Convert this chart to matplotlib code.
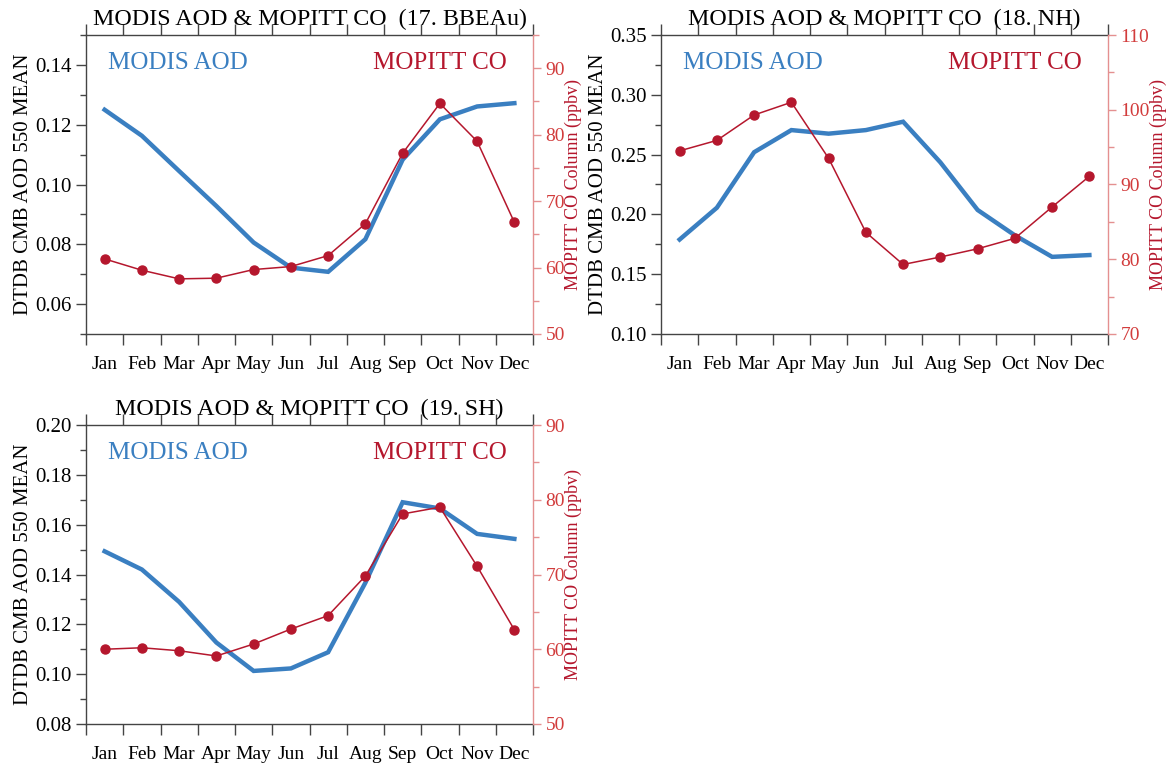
import matplotlib
matplotlib.use("Agg")
import matplotlib.pyplot as plt
from matplotlib.ticker import MultipleLocator, FixedLocator, FormatStrFormatter, NullFormatter

plt.rcParams['font.family'] = ['Liberation Serif', 'DejaVu Serif']

months = ["Jan", "Feb", "Mar", "Apr", "May", "Jun", "Jul", "Aug", "Sep", "Oct", "Nov", "Dec"]

aod_bbeau = [0.125, 0.1163, 0.1045, 0.0928, 0.0806, 0.0722, 0.0708, 0.0817, 0.1083, 0.1218, 0.1261, 0.1272]
co_bbeau = [61.3, 59.6, 58.3, 58.4, 59.7, 60.15, 61.8, 66.6, 77.2, 84.7, 79.0, 66.8]

aod_nh = [0.179, 0.2056, 0.252, 0.2705, 0.2675, 0.2705, 0.2775, 0.2435, 0.2037, 0.1825, 0.1645, 0.1660]
co_nh = [94.5, 95.9, 99.3, 101.0, 93.5, 83.6, 79.3, 80.3, 81.4, 82.8, 87.0, 91.1]

aod_sh = [0.1493, 0.142, 0.129, 0.1127, 0.1013, 0.1023, 0.1088, 0.1367, 0.169, 0.1665, 0.1563, 0.1543]
co_sh = [60.0, 60.2, 59.8, 59.1, 60.7, 62.7, 64.5, 69.8, 78.1, 79.0, 71.1, 62.6]

titles = ["MODIS AOD & MOPITT CO  (17. BBEAu)",
          "MODIS AOD & MOPITT CO  (18. NH)",
          "MODIS AOD & MOPITT CO  (19. SH)"]

BLUE = "#3a7fc1"
RED = "#b5172d"
RAXIS = "#e49090"
RLAB = "#d23c3c"
GRAY = "#444444"

W, H = 1169, 768
fig = plt.figure(figsize=(W / 100, H / 100), dpi=100)

def rect(x0, x1, y0, y1):
    return [x0 / W, 1 - y1 / H, (x1 - x0) / W, (y1 - y0) / H]

panels = [
    dict(title=titles[0], aod=aod_bbeau, co=co_bbeau, ylim=(0.05, 0.15), ymaj=0.02, ymin=0.01,
         fmt="%.2f", rlim=(50, 95), rect=rect(86, 533, 35, 334)),
    dict(title=titles[1], aod=aod_nh, co=co_nh, ylim=(0.10, 0.35), ymaj=0.05, ymin=0.025,
         fmt="%.2f", rlim=(70, 110), rect=rect(661, 1108, 35, 334)),
    dict(title=titles[2], aod=aod_sh, co=co_sh, ylim=(0.08, 0.20), ymaj=0.02, ymin=0.01,
         fmt="%.2f", rlim=(50, 90), rect=rect(86, 533, 425, 724)),
]

xpos = [i + 0.5 for i in range(len(months))]

for p in panels:
    ax = fig.add_axes(p["rect"])
    ax2 = ax.twinx()

    ax.plot(xpos, p["aod"], color=BLUE, lw=3.2, solid_joinstyle="miter", zorder=2)
    ax2.plot(xpos, p["co"], color=RED, lw=1.1, marker="o", ms=6.5, zorder=3)

    ax.set_xlim(0, 12)
    ax.set_ylim(*p["ylim"])
    ax2.set_ylim(*p["rlim"])

    # x ticks: major at month boundaries, labels at centers
    ax.xaxis.set_major_locator(FixedLocator(range(13)))
    ax.xaxis.set_major_formatter(NullFormatter())
    ax.xaxis.set_minor_locator(FixedLocator(xpos))
    ax.set_xticklabels(months, minor=True)
    ax.tick_params(axis="x", which="major", direction="out", length=8, width=1,
                   color=GRAY, top=True, bottom=True)
    ax.tick_params(axis="x", which="minor", length=0, pad=16, labelsize=14)

    ax.yaxis.set_major_locator(MultipleLocator(p["ymaj"]))
    ax.yaxis.set_minor_locator(MultipleLocator(p["ymin"]))
    ax.yaxis.set_major_formatter(FormatStrFormatter(p["fmt"]))
    ax.tick_params(axis="y", which="major", direction="out", length=7, width=1,
                   color=GRAY, labelsize=15, pad=3)
    ax.tick_params(axis="y", which="minor", direction="out", length=4, width=1, color=GRAY)

    ax2.yaxis.set_major_locator(MultipleLocator(10))
    ax2.yaxis.set_minor_locator(MultipleLocator(5))
    ax2.tick_params(axis="y", which="major", direction="out", length=6, width=1,
                    color=RAXIS, labelcolor=RLAB, labelsize=14, pad=3)
    ax2.tick_params(axis="y", which="minor", direction="out", length=4, width=1, color=RAXIS)

    for s in ["left", "top", "bottom"]:
        ax.spines[s].set_color(GRAY)
        ax.spines[s].set_linewidth(1)
        ax2.spines[s].set_visible(False)
    ax.spines["right"].set_visible(False)
    ax2.spines["right"].set_color(RAXIS)
    ax2.spines["right"].set_linewidth(1)

    ax.set_ylabel("DTDB CMB AOD 550 MEAN", fontsize=15, labelpad=2)
    ax2.set_ylabel("MOPITT CO Column (ppbv)", fontsize=13, color=RED, labelpad=0)

    ax.set_title(p["title"], fontsize=17.3, pad=7)

    ax.text(0.049, 0.906, "MODIS AOD", transform=ax.transAxes, color=BLUE,
            fontsize=18, ha="left", va="center")
    ax.text(0.942, 0.906, "MOPITT CO", transform=ax.transAxes, color=RED,
            fontsize=18, ha="right", va="center")

fig.savefig("out.png", dpi=100)
